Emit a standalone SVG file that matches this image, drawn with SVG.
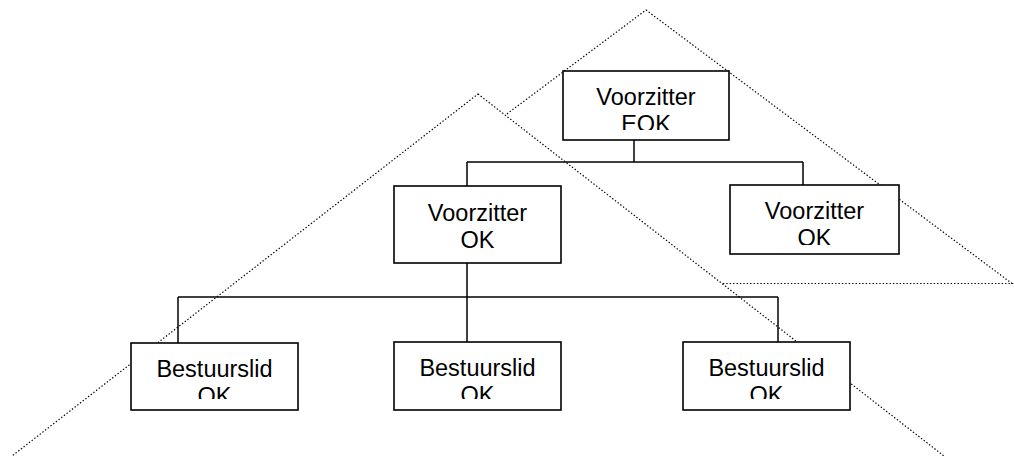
<svg xmlns="http://www.w3.org/2000/svg" width="1014" height="456" viewBox="0 0 1014 456">
  <style>
    .zone { fill: #ffffff; stroke: #000000; stroke-width: 1.2; stroke-dasharray: 1.4 2; }
    .box rect { fill: #ffffff; stroke: #000000; stroke-width: 1.6; }
    .box text { font-family: "Liberation Sans", Arial, sans-serif; font-size: 23.5px; fill: #000000; text-anchor: middle; }
    #connectors line { stroke: #000000; stroke-width: 1.5; }
  </style>
  <defs>
    <clipPath id="clip-eok"><rect x="563" y="71" width="166" height="59"/></clipPath>
    <clipPath id="clip-ok1"><rect x="394" y="186" width="167" height="67"/></clipPath>
    <clipPath id="clip-ok2"><rect x="730" y="185" width="169" height="60"/></clipPath>
    <clipPath id="clip-b1"><rect x="131" y="343" width="167" height="56"/></clipPath>
    <clipPath id="clip-b2"><rect x="394" y="342" width="167" height="57"/></clipPath>
    <clipPath id="clip-b3"><rect x="683" y="342" width="167" height="57"/></clipPath>
  </defs>

  <!-- dotted groupings -->
  <g id="zones">
    <polygon class="zone" points="646,10 1012,283.5 280,283.5"/>
    <polygon class="zone" points="478,94 962,470 -6,470"/>
  </g>

  <!-- tree lines -->
  <g id="connectors">
    <line x1="634" y1="140" x2="634" y2="162"/>
    <line x1="467" y1="162" x2="803" y2="162"/>
    <line x1="467" y1="162" x2="467" y2="186"/>
    <line x1="803" y1="162" x2="803" y2="185"/>
    <line x1="467" y1="263" x2="467" y2="342"/>
    <line x1="178" y1="297" x2="778" y2="297"/>
    <line x1="178" y1="297" x2="178" y2="343"/>
    <line x1="778" y1="297" x2="778" y2="342"/>
  </g>

  <g id="voorzitter-eok" class="box">
    <rect x="563" y="71" width="166" height="69"/>
    <g clip-path="url(#clip-eok)">
      <text x="646" y="105">Voorzitter</text>
      <text x="646" y="132">EOK</text>
    </g>
  </g>

  <g id="voorzitter-ok-1" class="box">
    <rect x="394" y="186" width="167" height="77"/>
    <g clip-path="url(#clip-ok1)">
      <text x="477.5" y="221">Voorzitter</text>
      <text x="477.5" y="248">OK</text>
    </g>
  </g>

  <g id="voorzitter-ok-2" class="box">
    <rect x="730" y="185" width="169" height="69"/>
    <g clip-path="url(#clip-ok2)">
      <text x="814.5" y="219">Voorzitter</text>
      <text x="814.5" y="246">OK</text>
    </g>
  </g>

  <g id="bestuurslid-1" class="box">
    <rect x="131" y="343" width="167" height="67"/>
    <g clip-path="url(#clip-b1)">
      <text x="214.5" y="377">Bestuurslid</text>
      <text x="214.5" y="404">OK</text>
    </g>
  </g>

  <g id="bestuurslid-2" class="box">
    <rect x="394" y="342" width="167" height="68"/>
    <g clip-path="url(#clip-b2)">
      <text x="477.5" y="376">Bestuurslid</text>
      <text x="477.5" y="403">OK</text>
    </g>
  </g>

  <g id="bestuurslid-3" class="box">
    <rect x="683" y="342" width="167" height="68"/>
    <g clip-path="url(#clip-b3)">
      <text x="766.5" y="376">Bestuurslid</text>
      <text x="766.5" y="403">OK</text>
    </g>
  </g>
</svg>
